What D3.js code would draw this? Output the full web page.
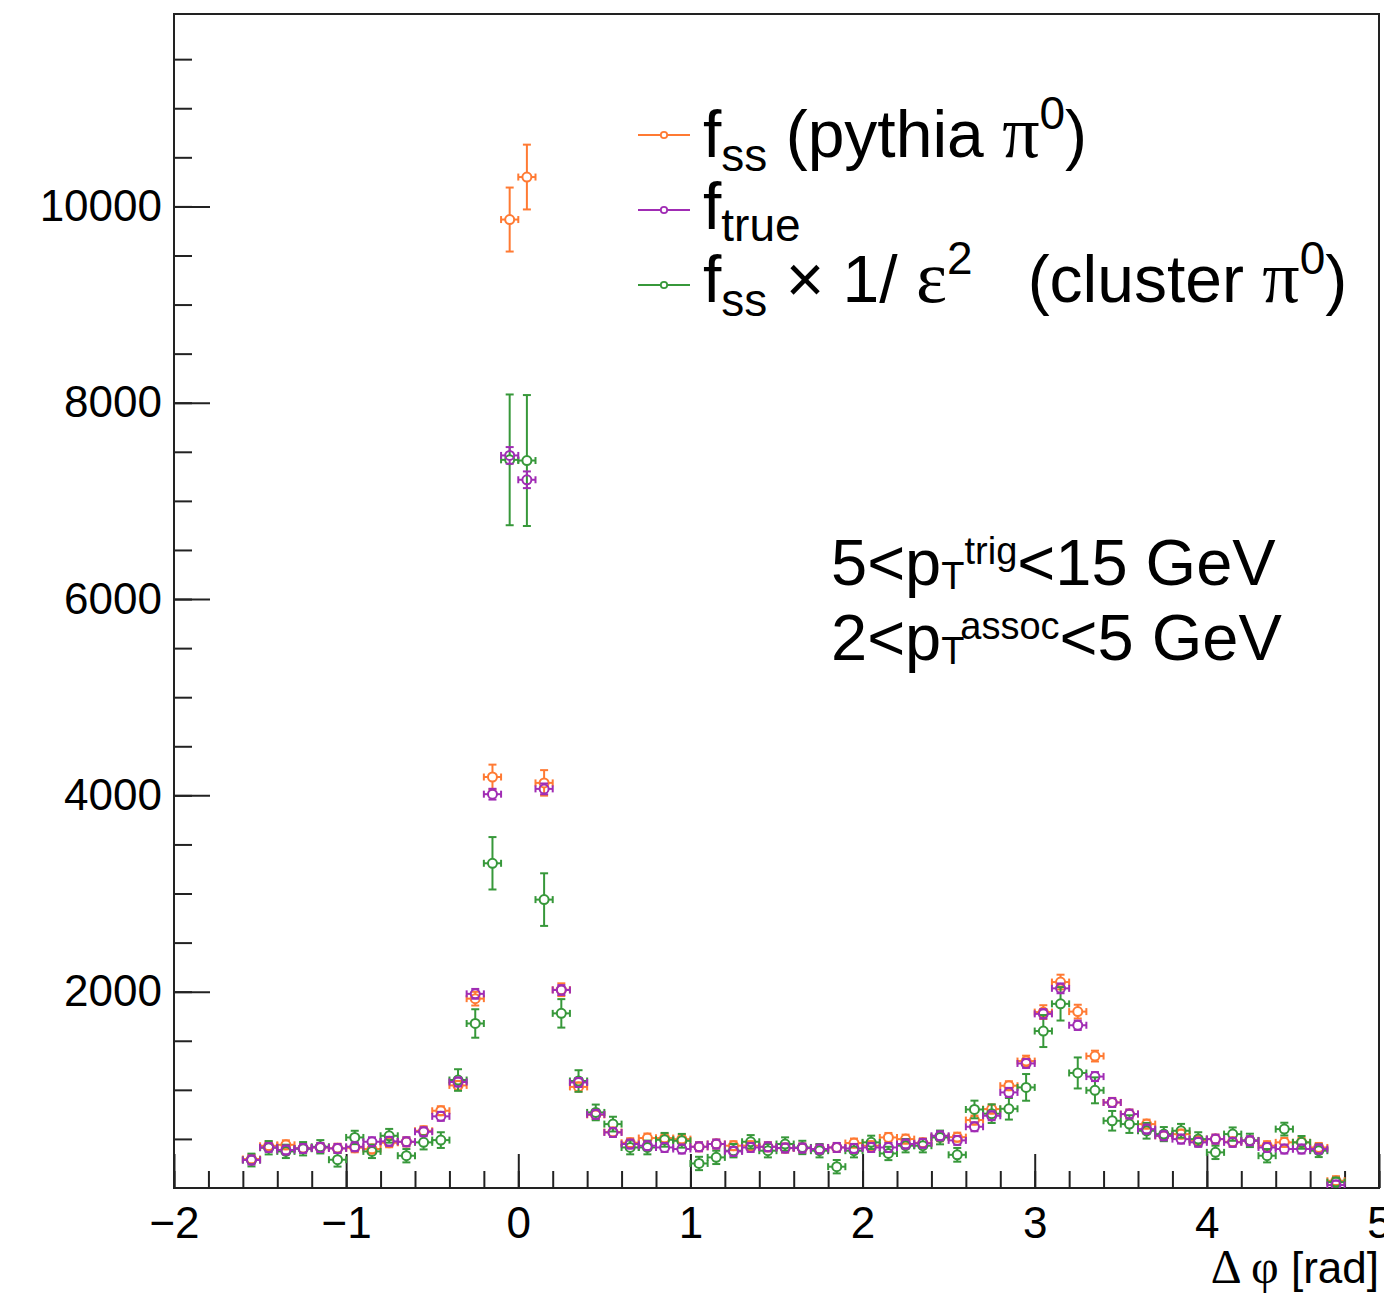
<!DOCTYPE html>
<html>
<head>
<meta charset="utf-8">
<script src="https://cdn.jsdelivr.net/npm/d3@7/dist/d3.min.js"></script>
<style>
  html, body { margin: 0; padding: 0; background: #fff; }
  svg text { font-family: "Liberation Sans", Arial, Helvetica, sans-serif; fill: #000; }
  .greek { font-family: "Liberation Serif", "DejaVu Serif", serif; }
</style>
</head>
<body>
<svg id="chart" width="1384" height="1293"></svg>
<script>
// Δφ bin centres (bin width 0.1 rad)
const phiBins = [
  -1.55, -1.45, -1.35, -1.25, -1.15, -1.05, -0.95, -0.85, -0.75, -0.65,
  -0.55, -0.45, -0.35, -0.25, -0.15, -0.05, 0.05, 0.15, 0.25, 0.35,
  0.45, 0.55, 0.65, 0.75, 0.85, 0.95, 1.05, 1.15, 1.25, 1.35,
  1.45, 1.55, 1.65, 1.75, 1.85, 1.95, 2.05, 2.15, 2.25, 2.35,
  2.45, 2.55, 2.65, 2.75, 2.85, 2.95, 3.05, 3.15, 3.25, 3.35,
  3.45, 3.55, 3.65, 3.75, 3.85, 3.95, 4.05, 4.15, 4.25, 4.35,
  4.45, 4.55, 4.65, 4.75
];
const binHalfWidth = 0.05;

// f_ss (pythia pi0)
const fssPythia = [
  295, 430, 440, 405, 413, 405, 410, 397, 461, 470,
  583, 787, 1045, 1929, 4187, 9866, 10299, 4127, 2020, 1030,
  745, 570, 461, 509, 509, 498, 420, 448, 431, 431,
  420, 407, 407, 397, 413, 458, 431, 515, 498, 460,
  522, 518, 692, 804, 1042, 1293, 1792, 2098, 1797, 1344,
  872, 753, 651, 532, 549, 481, 498, 470, 481, 431,
  465, 465, 413, 74
];
const fssPythiaErr = [
  25, 25, 25, 25, 25, 25, 25, 25, 25, 25,
  28, 35, 45, 70, 126, 326, 330, 130, 65, 45,
  35, 30, 25, 25, 25, 25, 25, 25, 25, 25,
  25, 25, 25, 25, 25, 25, 25, 25, 25, 25,
  25, 25, 35, 35, 45, 55, 70, 75, 70, 55,
  40, 35, 30, 25, 25, 25, 25, 25, 25, 25,
  25, 25, 25, 10
];

// f_true
const fTrue = [
  285, 413, 387, 403, 413, 403, 420, 471, 475, 471,
  573, 730, 1080, 1978, 4012, 7463, 7215, 4066, 2017, 1075,
  750, 566, 448, 431, 413, 397, 420, 448, 373, 413,
  420, 407, 407, 397, 413, 403, 413, 413, 448, 455,
  532, 485, 624, 736, 974, 1269, 1774, 2034, 1658, 1135,
  871, 753, 600, 532, 498, 465, 498, 465, 481, 413,
  397, 397, 397, 30
];
const fTrueErr = [
  40, 40, 40, 40, 40, 40, 40, 40, 40, 40,
  40, 42, 45, 50, 55, 85, 85, 55, 50, 45,
  42, 40, 40, 40, 40, 40, 40, 40, 40, 40,
  40, 40, 40, 40, 40, 40, 40, 40, 40, 40,
  40, 40, 40, 40, 42, 45, 48, 50, 48, 45,
  42, 40, 40, 40, 40, 40, 40, 40, 40, 40,
  40, 40, 40, 15
];

// f_ss x 1/eps^2 (cluster pi0)
const fssCluster = [
  285, 410, 373, 400, 420, 288, 515, 373, 532, 329,
  465, 488, 1100, 1676, 3308, 7418, 7411, 2938, 1779, 1090,
  770, 651, 413, 413, 491, 481, 250, 312, 380, 471,
  380, 448, 413, 380, 217, 380, 465, 352, 431, 431,
  515, 338, 800, 757, 807, 1025, 1599, 1876, 1172, 995,
  685, 651, 583, 549, 583, 498, 363, 549, 485, 329,
  600, 465, 380, 60
];
const fssClusterErr = [
  65, 68, 68, 68, 68, 70, 68, 68, 70, 68,
  72, 80, 110, 145, 267, 666, 667, 268, 145, 110,
  80, 75, 70, 70, 70, 70, 68, 68, 68, 68,
  68, 68, 68, 68, 68, 68, 68, 68, 68, 68,
  70, 70, 90, 95, 110, 136, 163, 170, 158, 132,
  100, 90, 80, 72, 70, 70, 68, 68, 68, 68,
  65, 65, 65, 20
];

const xMajorTicks = [-2, -1, 0, 1, 2, 3, 4, 5];
const yMajorTicks = [2000, 4000, 6000, 8000, 10000];

const colors = { pythia: "#ff7a33", truth: "#a02cb4", cluster: "#37983a" };
const series = [
  { name: "pythia", values: fssPythia, errors: fssPythiaErr, color: colors.pythia },
  { name: "cluster", values: fssCluster, errors: fssClusterErr, color: colors.cluster },
  { name: "true", values: fTrue, errors: fTrueErr, color: colors.truth }
];

const svg = d3.select("#chart");
const frame = { left: 174, right: 1379, top: 14, bottom: 1188 };

const x = d3.scaleLinear().domain([-2, 5]).range([frame.left, frame.right]);
const y = d3.scaleLinear().domain([0, 11960]).range([frame.bottom, frame.top]);

// ---- axes (ticks point inward) ----
const xMinor = d3.axisBottom(x).tickValues(d3.range(-2, 5.001, 0.2)).tickSize(-17).tickFormat("").tickSizeOuter(0);
const xMajor = d3.axisBottom(x).tickValues(xMajorTicks).tickSize(-34).tickPadding(19).tickSizeOuter(0)
  .tickFormat(d3.format("d"));
const yMinor = d3.axisLeft(y).tickValues(d3.range(500, 11960, 500)).tickSize(-18).tickFormat("").tickSizeOuter(0);
const yMajor = d3.axisLeft(y).tickValues(yMajorTicks).tickSize(-36).tickPadding(12).tickSizeOuter(0)
  .tickFormat(d3.format("d"));

function styleAxis(g) {
  g.select(".domain").remove();
  g.selectAll(".tick line").attr("stroke", "#222").attr("stroke-width", 2);
  g.selectAll(".tick text").attr("font-size", 44).attr("fill", "#000")
    .attr("font-family", '"Liberation Sans", Arial, sans-serif');
}

svg.append("g").attr("transform", `translate(0,${frame.bottom})`).call(xMinor).call(styleAxis);
svg.append("g").attr("transform", `translate(0,${frame.bottom})`).call(xMajor).call(styleAxis);
svg.append("g").attr("transform", `translate(${frame.left},0)`).call(yMinor).call(styleAxis);
svg.append("g").attr("transform", `translate(${frame.left},0)`).call(yMajor).call(styleAxis);

// frame
svg.append("rect")
  .attr("x", frame.left).attr("y", frame.top)
  .attr("width", frame.right - frame.left).attr("height", frame.bottom - frame.top)
  .attr("fill", "none").attr("stroke", "#222").attr("stroke-width", 2);

// x-axis title
const xt = svg.append("text").attr("x", frame.right).attr("y", 1283)
  .attr("text-anchor", "end").attr("font-size", 44).style("white-space", "pre");
xt.append("tspan").attr("class", "greek").attr("font-size", 48).text("Δ ");
xt.append("tspan").attr("class", "greek").attr("font-size", 48).text("φ");
xt.append("tspan").text(" [rad]");

// ---- data points with error bars ----
svg.append("clipPath").attr("id", "plotClip").append("rect")
  .attr("x", frame.left).attr("y", frame.top)
  .attr("width", frame.right - frame.left).attr("height", frame.bottom - frame.top);

const plot = svg.append("g").attr("clip-path", "url(#plotClip)");
const r = 4.5;        // marker radius
const capH = 3.5;     // half length of end caps
const sw = 2;

series.forEach(s => {
  const pts = phiBins.map((phi, i) => ({ phi, v: s.values[i], e: s.errors[i] }));
  const g = plot.append("g").attr("stroke", s.color).attr("stroke-width", sw).attr("fill", "none");
  const pg = g.selectAll("g.pt").data(pts).join("g").attr("class", "pt");

  pg.each(function (d) {
    const sel = d3.select(this);
    const cx = x(d.phi), cy = y(d.v);
    const xl = x(d.phi - binHalfWidth), xr = x(d.phi + binHalfWidth);
    const yt = y(d.v + d.e), yb = y(d.v - d.e);
    // horizontal bar outside the marker, with caps
    sel.append("line").attr("x1", xl).attr("x2", cx - r).attr("y1", cy).attr("y2", cy);
    sel.append("line").attr("x1", cx + r).attr("x2", xr).attr("y1", cy).attr("y2", cy);
    sel.append("line").attr("x1", xl).attr("x2", xl).attr("y1", cy - capH).attr("y2", cy + capH);
    sel.append("line").attr("x1", xr).attr("x2", xr).attr("y1", cy - capH).attr("y2", cy + capH);
    // vertical bar outside the marker, with caps
    const top = Math.min(yt, cy - r), bot = Math.max(yb, cy + r);
    if (top < cy - r) sel.append("line").attr("x1", cx).attr("x2", cx).attr("y1", top).attr("y2", cy - r);
    if (bot > cy + r) sel.append("line").attr("x1", cx).attr("x2", cx).attr("y1", cy + r).attr("y2", bot);
    sel.append("line").attr("x1", cx - capH - 0.5).attr("x2", cx + capH + 0.5).attr("y1", top).attr("y2", top);
    sel.append("line").attr("x1", cx - capH - 0.5).attr("x2", cx + capH + 0.5).attr("y1", bot).attr("y2", bot);
    sel.append("circle").attr("cx", cx).attr("cy", cy).attr("r", r);
  });
});

// ---- legend ----
const legendRows = [
  { color: colors.pythia, y: 135 },
  { color: colors.truth, y: 210 },
  { color: colors.cluster, y: 285 }
];
const lg = svg.append("g");
legendRows.forEach(row => {
  lg.append("line").attr("x1", 638).attr("x2", 690).attr("y1", row.y).attr("y2", row.y)
    .attr("stroke", row.color).attr("stroke-width", 2);
  lg.append("circle").attr("cx", 664).attr("cy", row.y).attr("r", 3.2)
    .attr("fill", "#fff").attr("stroke", row.color).attr("stroke-width", 1.8);
});

const legFont = 66, legSub = 46, greekSize = 74, subDy = 14, supDy = 28;
function legendText(yBase) {
  return lg.append("text").attr("x", 703).attr("y", yBase).attr("font-size", legFont).style("white-space", "pre");
}
// row 1: f_ss (pythia π0)
const t1 = legendText(157);
t1.append("tspan").text("f");
t1.append("tspan").attr("font-size", legSub).attr("dy", subDy).text("ss");
t1.append("tspan").attr("dy", -subDy).text(" (pythia ");
t1.append("tspan").attr("class", "greek").attr("font-size", greekSize).text("π");
t1.append("tspan").attr("font-size", legSub).attr("dy", -supDy).text("0");
t1.append("tspan").attr("dy", supDy).text(")");
// row 2: f_true
const t2 = legendText(229);
t2.append("tspan").text("f");
t2.append("tspan").attr("font-size", legSub).attr("dy", subDy - 2).text("true");
// row 3: f_ss × 1/ ε2  (cluster π0)
const t3 = legendText(302);
t3.append("tspan").text("f");
t3.append("tspan").attr("font-size", legSub).attr("dy", subDy).text("ss");
t3.append("tspan").attr("dy", -subDy).text(" × 1/ ");
t3.append("tspan").attr("class", "greek").attr("font-size", greekSize).text("ε");
t3.append("tspan").attr("font-size", legSub).attr("dy", -supDy).text("2");
t3.append("tspan").attr("dy", supDy).text("   (cluster ");
t3.append("tspan").attr("class", "greek").attr("font-size", greekSize).text("π");
t3.append("tspan").attr("font-size", legSub).attr("dy", -supDy).text("0");
t3.append("tspan").attr("dy", supDy).text(")");

// ---- kinematic selection labels ----
const kFont = 65, kSmall = 38;
function kinLabel(yBase, lead, sup, tail) {
  const t = svg.append("text").attr("x", 831).attr("y", yBase).attr("font-size", kFont).style("white-space", "pre");
  t.append("tspan").text(lead + "<p");
  t.append("tspan").attr("font-size", kSmall).attr("dy", 4).text("T");
  t.append("tspan").attr("font-size", kSmall).attr("dy", -25).text(sup);
  t.append("tspan").attr("dy", 21).text("<" + tail + " GeV");
}
kinLabel(585, "5", "trig", "15");
kinLabel(660, "2", "assoc", "5");
</script>
</body>
</html>
